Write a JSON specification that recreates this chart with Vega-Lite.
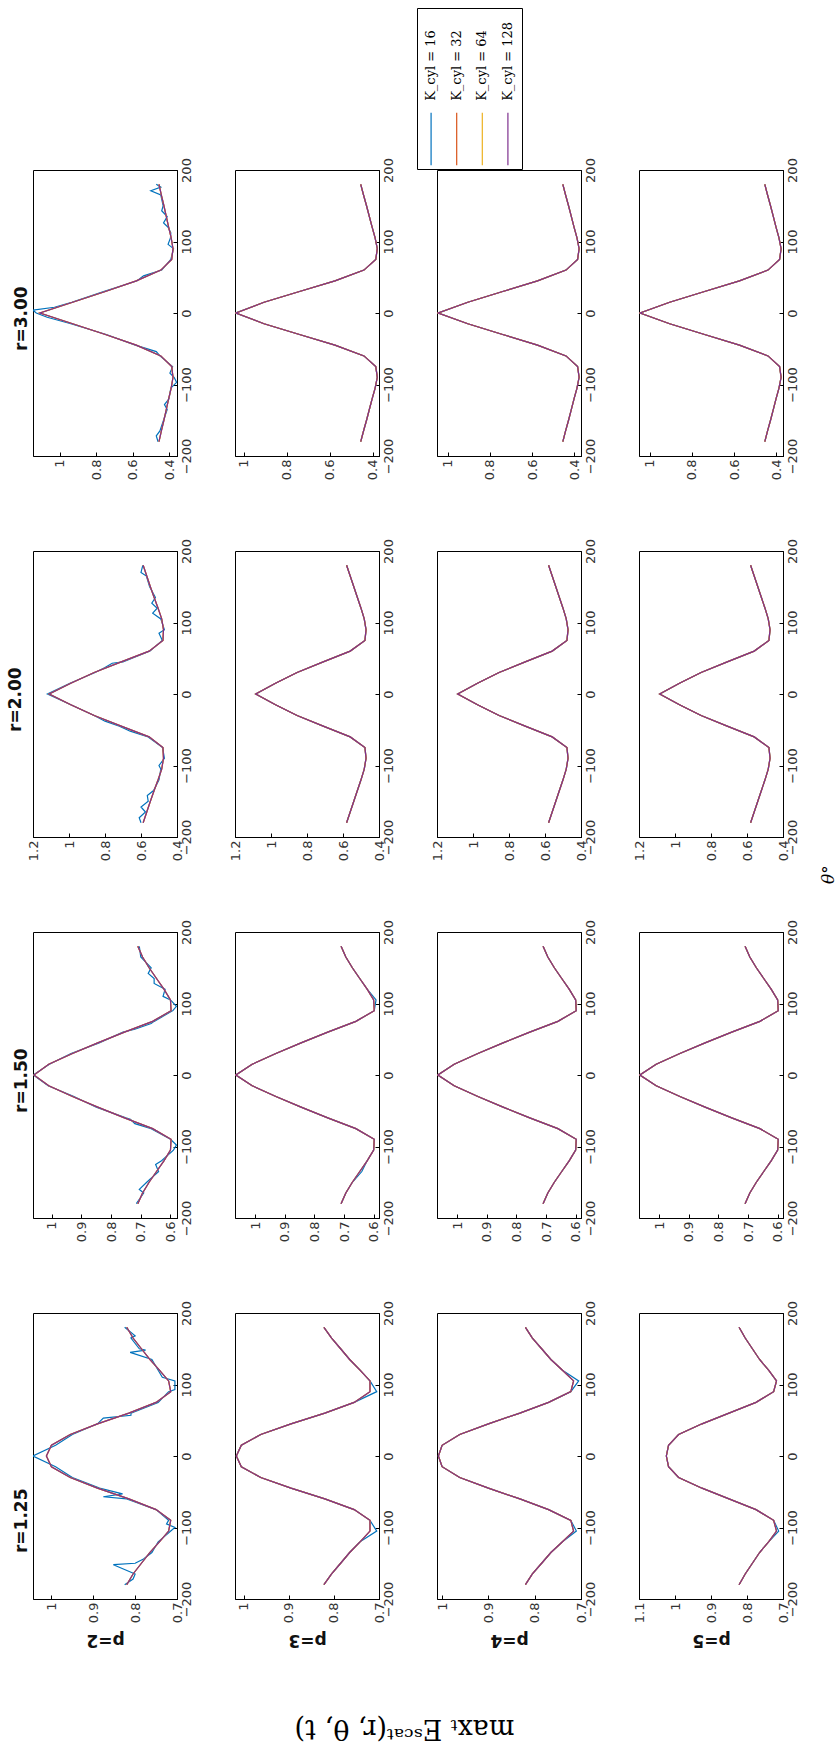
{
"$schema":"https://vega.github.io/schema/vega-lite/v6.json",
"background":"white",
"padding":{"left":6,"top":7,"right":2,"bottom":2},
"data":{"values":[
{"r":3,"p":2,"t":-180,"16":0.46,"32":0.455,"64":0.455,"128":0.455},
{"r":3,"p":2,"t":-165,"16":0.45,"32":0.442,"64":0.442,"128":0.442},
{"r":3,"p":2,"t":-150,"16":0.43,"32":0.428,"64":0.428,"128":0.428},
{"r":3,"p":2,"t":-135,"16":0.41,"32":0.415,"64":0.415,"128":0.415},
{"r":3,"p":2,"t":-120,"16":0.4,"32":0.402,"64":0.402,"128":0.402},
{"r":3,"p":2,"t":-105,"16":0.39,"32":0.388,"64":0.388,"128":0.388},
{"r":3,"p":2,"t":-90,"16":0.372,"32":0.378,"64":0.378,"128":0.378},
{"r":3,"p":2,"t":-75,"16":0.38,"32":0.385,"64":0.385,"128":0.385},
{"r":3,"p":2,"t":-60,"16":0.45,"32":0.445,"64":0.445,"128":0.445},
{"r":3,"p":2,"t":-45,"16":0.585,"32":0.58,"64":0.58,"128":0.58},
{"r":3,"p":2,"t":-30,"16":0.745,"32":0.75,"64":0.75,"128":0.75},
{"r":3,"p":2,"t":-15,"16":0.94,"32":0.93,"64":0.93,"128":0.93},
{"r":3,"p":2,"t":0,"16":1.13,"32":1.11,"64":1.11,"128":1.11},
{"r":3,"p":2,"t":15,"16":0.935,"32":0.93,"64":0.93,"128":0.93},
{"r":3,"p":2,"t":30,"16":0.76,"32":0.75,"64":0.75,"128":0.75},
{"r":3,"p":2,"t":45,"16":0.575,"32":0.58,"64":0.58,"128":0.58},
{"r":3,"p":2,"t":60,"16":0.44,"32":0.445,"64":0.445,"128":0.445},
{"r":3,"p":2,"t":75,"16":0.39,"32":0.385,"64":0.385,"128":0.385},
{"r":3,"p":2,"t":90,"16":0.375,"32":0.378,"64":0.378,"128":0.378},
{"r":3,"p":2,"t":105,"16":0.392,"32":0.388,"64":0.388,"128":0.388},
{"r":3,"p":2,"t":120,"16":0.405,"32":0.402,"64":0.402,"128":0.402},
{"r":3,"p":2,"t":135,"16":0.41,"32":0.415,"64":0.415,"128":0.415},
{"r":3,"p":2,"t":150,"16":0.432,"32":0.428,"64":0.428,"128":0.428},
{"r":3,"p":2,"t":165,"16":0.445,"32":0.442,"64":0.442,"128":0.442},
{"r":3,"p":2,"t":180,"16":0.47,"32":0.455,"64":0.455,"128":0.455},
{"r":3,"p":2,"t":-172,"16":0.47},{"r":3,"p":2,"t":-128,"16":0.425},{"r":3,"p":2,"t":-97,"16":0.358},{"r":3,"p":2,"t":-84,"16":0.395},{"r":3,"p":2,"t":-54,"16":0.47},{"r":3,"p":2,"t":-6,"16":1.07},{"r":3,"p":2,"t":4,"16":1.148},{"r":3,"p":2,"t":8,"16":1.03},{"r":3,"p":2,"t":52,"16":0.54},{"r":3,"p":2,"t":96,"16":0.405},{"r":3,"p":2,"t":112,"16":0.39},{"r":3,"p":2,"t":126,"16":0.43},{"r":3,"p":2,"t":143,"16":0.44},{"r":3,"p":2,"t":171,"16":0.5},{"r":3,"p":2,"t":176,"16":0.445},
{"r":3,"p":3,"t":-180,"16":0.455,"32":0.455,"64":0.455,"128":0.455},
{"r":3,"p":3,"t":-165,"16":0.442,"32":0.442,"64":0.442,"128":0.442},
{"r":3,"p":3,"t":-150,"16":0.428,"32":0.428,"64":0.428,"128":0.428},
{"r":3,"p":3,"t":-135,"16":0.415,"32":0.415,"64":0.415,"128":0.415},
{"r":3,"p":3,"t":-120,"16":0.402,"32":0.402,"64":0.402,"128":0.402},
{"r":3,"p":3,"t":-105,"16":0.388,"32":0.388,"64":0.388,"128":0.388},
{"r":3,"p":3,"t":-90,"16":0.378,"32":0.378,"64":0.378,"128":0.378},
{"r":3,"p":3,"t":-75,"16":0.385,"32":0.385,"64":0.385,"128":0.385},
{"r":3,"p":3,"t":-60,"16":0.44,"32":0.44,"64":0.44,"128":0.44},
{"r":3,"p":3,"t":-45,"16":0.575,"32":0.575,"64":0.575,"128":0.575},
{"r":3,"p":3,"t":-30,"16":0.74,"32":0.74,"64":0.74,"128":0.74},
{"r":3,"p":3,"t":-15,"16":0.905,"32":0.905,"64":0.905,"128":0.905},
{"r":3,"p":3,"t":0,"16":1.038,"32":1.035,"64":1.035,"128":1.035},
{"r":3,"p":3,"t":15,"16":0.905,"32":0.905,"64":0.905,"128":0.905},
{"r":3,"p":3,"t":30,"16":0.74,"32":0.74,"64":0.74,"128":0.74},
{"r":3,"p":3,"t":45,"16":0.575,"32":0.575,"64":0.575,"128":0.575},
{"r":3,"p":3,"t":60,"16":0.44,"32":0.44,"64":0.44,"128":0.44},
{"r":3,"p":3,"t":75,"16":0.385,"32":0.385,"64":0.385,"128":0.385},
{"r":3,"p":3,"t":90,"16":0.378,"32":0.378,"64":0.378,"128":0.378},
{"r":3,"p":3,"t":105,"16":0.388,"32":0.388,"64":0.388,"128":0.388},
{"r":3,"p":3,"t":120,"16":0.402,"32":0.402,"64":0.402,"128":0.402},
{"r":3,"p":3,"t":135,"16":0.415,"32":0.415,"64":0.415,"128":0.415},
{"r":3,"p":3,"t":150,"16":0.428,"32":0.428,"64":0.428,"128":0.428},
{"r":3,"p":3,"t":165,"16":0.442,"32":0.442,"64":0.442,"128":0.442},
{"r":3,"p":3,"t":180,"16":0.455,"32":0.455,"64":0.455,"128":0.455},
{"r":3,"p":4,"t":-180,"16":0.455,"32":0.455,"64":0.455,"128":0.455},
{"r":3,"p":4,"t":-165,"16":0.442,"32":0.442,"64":0.442,"128":0.442},
{"r":3,"p":4,"t":-150,"16":0.428,"32":0.428,"64":0.428,"128":0.428},
{"r":3,"p":4,"t":-135,"16":0.415,"32":0.415,"64":0.415,"128":0.415},
{"r":3,"p":4,"t":-120,"16":0.402,"32":0.402,"64":0.402,"128":0.402},
{"r":3,"p":4,"t":-105,"16":0.388,"32":0.388,"64":0.388,"128":0.388},
{"r":3,"p":4,"t":-90,"16":0.378,"32":0.378,"64":0.378,"128":0.378},
{"r":3,"p":4,"t":-75,"16":0.385,"32":0.385,"64":0.385,"128":0.385},
{"r":3,"p":4,"t":-60,"16":0.44,"32":0.44,"64":0.44,"128":0.44},
{"r":3,"p":4,"t":-45,"16":0.575,"32":0.575,"64":0.575,"128":0.575},
{"r":3,"p":4,"t":-30,"16":0.74,"32":0.74,"64":0.74,"128":0.74},
{"r":3,"p":4,"t":-15,"16":0.905,"32":0.905,"64":0.905,"128":0.905},
{"r":3,"p":4,"t":0,"16":1.045,"32":1.045,"64":1.045,"128":1.045},
{"r":3,"p":4,"t":15,"16":0.905,"32":0.905,"64":0.905,"128":0.905},
{"r":3,"p":4,"t":30,"16":0.74,"32":0.74,"64":0.74,"128":0.74},
{"r":3,"p":4,"t":45,"16":0.575,"32":0.575,"64":0.575,"128":0.575},
{"r":3,"p":4,"t":60,"16":0.44,"32":0.44,"64":0.44,"128":0.44},
{"r":3,"p":4,"t":75,"16":0.385,"32":0.385,"64":0.385,"128":0.385},
{"r":3,"p":4,"t":90,"16":0.378,"32":0.378,"64":0.378,"128":0.378},
{"r":3,"p":4,"t":105,"16":0.388,"32":0.388,"64":0.388,"128":0.388},
{"r":3,"p":4,"t":120,"16":0.402,"32":0.402,"64":0.402,"128":0.402},
{"r":3,"p":4,"t":135,"16":0.415,"32":0.415,"64":0.415,"128":0.415},
{"r":3,"p":4,"t":150,"16":0.428,"32":0.428,"64":0.428,"128":0.428},
{"r":3,"p":4,"t":165,"16":0.442,"32":0.442,"64":0.442,"128":0.442},
{"r":3,"p":4,"t":180,"16":0.455,"32":0.455,"64":0.455,"128":0.455},
{"r":3,"p":5,"t":-180,"16":0.455,"32":0.455,"64":0.455,"128":0.455},
{"r":3,"p":5,"t":-165,"16":0.442,"32":0.442,"64":0.442,"128":0.442},
{"r":3,"p":5,"t":-150,"16":0.428,"32":0.428,"64":0.428,"128":0.428},
{"r":3,"p":5,"t":-135,"16":0.415,"32":0.415,"64":0.415,"128":0.415},
{"r":3,"p":5,"t":-120,"16":0.402,"32":0.402,"64":0.402,"128":0.402},
{"r":3,"p":5,"t":-105,"16":0.388,"32":0.388,"64":0.388,"128":0.388},
{"r":3,"p":5,"t":-90,"16":0.378,"32":0.378,"64":0.378,"128":0.378},
{"r":3,"p":5,"t":-75,"16":0.385,"32":0.385,"64":0.385,"128":0.385},
{"r":3,"p":5,"t":-60,"16":0.44,"32":0.44,"64":0.44,"128":0.44},
{"r":3,"p":5,"t":-45,"16":0.575,"32":0.575,"64":0.575,"128":0.575},
{"r":3,"p":5,"t":-30,"16":0.74,"32":0.74,"64":0.74,"128":0.74},
{"r":3,"p":5,"t":-15,"16":0.905,"32":0.905,"64":0.905,"128":0.905},
{"r":3,"p":5,"t":0,"16":1.045,"32":1.045,"64":1.045,"128":1.045},
{"r":3,"p":5,"t":15,"16":0.905,"32":0.905,"64":0.905,"128":0.905},
{"r":3,"p":5,"t":30,"16":0.74,"32":0.74,"64":0.74,"128":0.74},
{"r":3,"p":5,"t":45,"16":0.575,"32":0.575,"64":0.575,"128":0.575},
{"r":3,"p":5,"t":60,"16":0.44,"32":0.44,"64":0.44,"128":0.44},
{"r":3,"p":5,"t":75,"16":0.385,"32":0.385,"64":0.385,"128":0.385},
{"r":3,"p":5,"t":90,"16":0.378,"32":0.378,"64":0.378,"128":0.378},
{"r":3,"p":5,"t":105,"16":0.388,"32":0.388,"64":0.388,"128":0.388},
{"r":3,"p":5,"t":120,"16":0.402,"32":0.402,"64":0.402,"128":0.402},
{"r":3,"p":5,"t":135,"16":0.415,"32":0.415,"64":0.415,"128":0.415},
{"r":3,"p":5,"t":150,"16":0.428,"32":0.428,"64":0.428,"128":0.428},
{"r":3,"p":5,"t":165,"16":0.442,"32":0.442,"64":0.442,"128":0.442},
{"r":3,"p":5,"t":180,"16":0.455,"32":0.455,"64":0.455,"128":0.455},
{"r":2,"p":2,"t":-180,"16":0.6,"32":0.588,"64":0.588,"128":0.588},
{"r":2,"p":2,"t":-165,"16":0.575,"32":0.568,"64":0.568,"128":0.568},
{"r":2,"p":2,"t":-150,"16":0.56,"32":0.548,"64":0.548,"128":0.548},
{"r":2,"p":2,"t":-135,"16":0.53,"32":0.527,"64":0.527,"128":0.527},
{"r":2,"p":2,"t":-120,"16":0.5,"32":0.505,"64":0.505,"128":0.505},
{"r":2,"p":2,"t":-105,"16":0.49,"32":0.485,"64":0.485,"128":0.485},
{"r":2,"p":2,"t":-90,"16":0.47,"32":0.475,"64":0.475,"128":0.475},
{"r":2,"p":2,"t":-75,"16":0.48,"32":0.478,"64":0.478,"128":0.478},
{"r":2,"p":2,"t":-60,"16":0.56,"32":0.555,"64":0.555,"128":0.555},
{"r":2,"p":2,"t":-45,"16":0.72,"32":0.71,"64":0.71,"128":0.71},
{"r":2,"p":2,"t":-30,"16":0.86,"32":0.86,"64":0.86,"128":0.86},
{"r":2,"p":2,"t":-15,"16":0.99,"32":0.99,"64":0.99,"128":0.99},
{"r":2,"p":2,"t":0,"16":1.12,"32":1.11,"64":1.11,"128":1.11},
{"r":2,"p":2,"t":15,"16":0.995,"32":0.99,"64":0.99,"128":0.99},
{"r":2,"p":2,"t":30,"16":0.855,"32":0.86,"64":0.86,"128":0.86},
{"r":2,"p":2,"t":45,"16":0.7,"32":0.71,"64":0.71,"128":0.71},
{"r":2,"p":2,"t":60,"16":0.55,"32":0.555,"64":0.555,"128":0.555},
{"r":2,"p":2,"t":75,"16":0.482,"32":0.478,"64":0.478,"128":0.478},
{"r":2,"p":2,"t":90,"16":0.47,"32":0.475,"64":0.475,"128":0.475},
{"r":2,"p":2,"t":105,"16":0.49,"32":0.485,"64":0.485,"128":0.485},
{"r":2,"p":2,"t":120,"16":0.51,"32":0.505,"64":0.505,"128":0.505},
{"r":2,"p":2,"t":135,"16":0.52,"32":0.527,"64":0.527,"128":0.527},
{"r":2,"p":2,"t":150,"16":0.552,"32":0.548,"64":0.548,"128":0.548},
{"r":2,"p":2,"t":165,"16":0.57,"32":0.568,"64":0.568,"128":0.568},
{"r":2,"p":2,"t":180,"16":0.59,"32":0.588,"64":0.588,"128":0.588},
{"r":2,"p":2,"t":-173,"16":0.61},{"r":2,"p":2,"t":-158,"16":0.6},{"r":2,"p":2,"t":-142,"16":0.565},{"r":2,"p":2,"t":-100,"16":0.5},{"r":2,"p":2,"t":-52,"16":0.66},{"r":2,"p":2,"t":-38,"16":0.8},{"r":2,"p":2,"t":37,"16":0.8},{"r":2,"p":2,"t":43,"16":0.76},{"r":2,"p":2,"t":85,"16":0.5},{"r":2,"p":2,"t":113,"16":0.535},{"r":2,"p":2,"t":127,"16":0.54},{"r":2,"p":2,"t":170,"16":0.6},
{"r":2,"p":3,"t":-180,"16":0.58,"32":0.58,"64":0.58,"128":0.58},
{"r":2,"p":3,"t":-165,"16":0.56,"32":0.56,"64":0.56,"128":0.56},
{"r":2,"p":3,"t":-150,"16":0.54,"32":0.54,"64":0.54,"128":0.54},
{"r":2,"p":3,"t":-135,"16":0.52,"32":0.52,"64":0.52,"128":0.52},
{"r":2,"p":3,"t":-120,"16":0.5,"32":0.5,"64":0.5,"128":0.5},
{"r":2,"p":3,"t":-105,"16":0.482,"32":0.482,"64":0.482,"128":0.482},
{"r":2,"p":3,"t":-90,"16":0.472,"32":0.472,"64":0.472,"128":0.472},
{"r":2,"p":3,"t":-75,"16":0.478,"32":0.478,"64":0.478,"128":0.478},
{"r":2,"p":3,"t":-60,"16":0.56,"32":0.56,"64":0.56,"128":0.56},
{"r":2,"p":3,"t":-45,"16":0.71,"32":0.71,"64":0.71,"128":0.71},
{"r":2,"p":3,"t":-30,"16":0.855,"32":0.855,"64":0.855,"128":0.855},
{"r":2,"p":3,"t":-15,"16":0.975,"32":0.975,"64":0.975,"128":0.975},
{"r":2,"p":3,"t":0,"16":1.085,"32":1.085,"64":1.085,"128":1.085},
{"r":2,"p":3,"t":15,"16":0.975,"32":0.975,"64":0.975,"128":0.975},
{"r":2,"p":3,"t":30,"16":0.855,"32":0.855,"64":0.855,"128":0.855},
{"r":2,"p":3,"t":45,"16":0.71,"32":0.71,"64":0.71,"128":0.71},
{"r":2,"p":3,"t":60,"16":0.56,"32":0.56,"64":0.56,"128":0.56},
{"r":2,"p":3,"t":75,"16":0.478,"32":0.478,"64":0.478,"128":0.478},
{"r":2,"p":3,"t":90,"16":0.472,"32":0.472,"64":0.472,"128":0.472},
{"r":2,"p":3,"t":105,"16":0.482,"32":0.482,"64":0.482,"128":0.482},
{"r":2,"p":3,"t":120,"16":0.5,"32":0.5,"64":0.5,"128":0.5},
{"r":2,"p":3,"t":135,"16":0.52,"32":0.52,"64":0.52,"128":0.52},
{"r":2,"p":3,"t":150,"16":0.54,"32":0.54,"64":0.54,"128":0.54},
{"r":2,"p":3,"t":165,"16":0.56,"32":0.56,"64":0.56,"128":0.56},
{"r":2,"p":3,"t":180,"16":0.58,"32":0.58,"64":0.58,"128":0.58},
{"r":2,"p":4,"t":-180,"16":0.58,"32":0.58,"64":0.58,"128":0.58},
{"r":2,"p":4,"t":-165,"16":0.56,"32":0.56,"64":0.56,"128":0.56},
{"r":2,"p":4,"t":-150,"16":0.54,"32":0.54,"64":0.54,"128":0.54},
{"r":2,"p":4,"t":-135,"16":0.52,"32":0.52,"64":0.52,"128":0.52},
{"r":2,"p":4,"t":-120,"16":0.5,"32":0.5,"64":0.5,"128":0.5},
{"r":2,"p":4,"t":-105,"16":0.482,"32":0.482,"64":0.482,"128":0.482},
{"r":2,"p":4,"t":-90,"16":0.472,"32":0.472,"64":0.472,"128":0.472},
{"r":2,"p":4,"t":-75,"16":0.478,"32":0.478,"64":0.478,"128":0.478},
{"r":2,"p":4,"t":-60,"16":0.56,"32":0.56,"64":0.56,"128":0.56},
{"r":2,"p":4,"t":-45,"16":0.71,"32":0.71,"64":0.71,"128":0.71},
{"r":2,"p":4,"t":-30,"16":0.855,"32":0.855,"64":0.855,"128":0.855},
{"r":2,"p":4,"t":-15,"16":0.975,"32":0.975,"64":0.975,"128":0.975},
{"r":2,"p":4,"t":0,"16":1.085,"32":1.085,"64":1.085,"128":1.085},
{"r":2,"p":4,"t":15,"16":0.975,"32":0.975,"64":0.975,"128":0.975},
{"r":2,"p":4,"t":30,"16":0.855,"32":0.855,"64":0.855,"128":0.855},
{"r":2,"p":4,"t":45,"16":0.71,"32":0.71,"64":0.71,"128":0.71},
{"r":2,"p":4,"t":60,"16":0.56,"32":0.56,"64":0.56,"128":0.56},
{"r":2,"p":4,"t":75,"16":0.478,"32":0.478,"64":0.478,"128":0.478},
{"r":2,"p":4,"t":90,"16":0.472,"32":0.472,"64":0.472,"128":0.472},
{"r":2,"p":4,"t":105,"16":0.482,"32":0.482,"64":0.482,"128":0.482},
{"r":2,"p":4,"t":120,"16":0.5,"32":0.5,"64":0.5,"128":0.5},
{"r":2,"p":4,"t":135,"16":0.52,"32":0.52,"64":0.52,"128":0.52},
{"r":2,"p":4,"t":150,"16":0.54,"32":0.54,"64":0.54,"128":0.54},
{"r":2,"p":4,"t":165,"16":0.56,"32":0.56,"64":0.56,"128":0.56},
{"r":2,"p":4,"t":180,"16":0.58,"32":0.58,"64":0.58,"128":0.58},
{"r":2,"p":5,"t":-180,"16":0.58,"32":0.58,"64":0.58,"128":0.58},
{"r":2,"p":5,"t":-165,"16":0.56,"32":0.56,"64":0.56,"128":0.56},
{"r":2,"p":5,"t":-150,"16":0.54,"32":0.54,"64":0.54,"128":0.54},
{"r":2,"p":5,"t":-135,"16":0.52,"32":0.52,"64":0.52,"128":0.52},
{"r":2,"p":5,"t":-120,"16":0.5,"32":0.5,"64":0.5,"128":0.5},
{"r":2,"p":5,"t":-105,"16":0.482,"32":0.482,"64":0.482,"128":0.482},
{"r":2,"p":5,"t":-90,"16":0.472,"32":0.472,"64":0.472,"128":0.472},
{"r":2,"p":5,"t":-75,"16":0.478,"32":0.478,"64":0.478,"128":0.478},
{"r":2,"p":5,"t":-60,"16":0.56,"32":0.56,"64":0.56,"128":0.56},
{"r":2,"p":5,"t":-45,"16":0.71,"32":0.71,"64":0.71,"128":0.71},
{"r":2,"p":5,"t":-30,"16":0.855,"32":0.855,"64":0.855,"128":0.855},
{"r":2,"p":5,"t":-15,"16":0.975,"32":0.975,"64":0.975,"128":0.975},
{"r":2,"p":5,"t":0,"16":1.085,"32":1.085,"64":1.085,"128":1.085},
{"r":2,"p":5,"t":15,"16":0.975,"32":0.975,"64":0.975,"128":0.975},
{"r":2,"p":5,"t":30,"16":0.855,"32":0.855,"64":0.855,"128":0.855},
{"r":2,"p":5,"t":45,"16":0.71,"32":0.71,"64":0.71,"128":0.71},
{"r":2,"p":5,"t":60,"16":0.56,"32":0.56,"64":0.56,"128":0.56},
{"r":2,"p":5,"t":75,"16":0.478,"32":0.478,"64":0.478,"128":0.478},
{"r":2,"p":5,"t":90,"16":0.472,"32":0.472,"64":0.472,"128":0.472},
{"r":2,"p":5,"t":105,"16":0.482,"32":0.482,"64":0.482,"128":0.482},
{"r":2,"p":5,"t":120,"16":0.5,"32":0.5,"64":0.5,"128":0.5},
{"r":2,"p":5,"t":135,"16":0.52,"32":0.52,"64":0.52,"128":0.52},
{"r":2,"p":5,"t":150,"16":0.54,"32":0.54,"64":0.54,"128":0.54},
{"r":2,"p":5,"t":165,"16":0.56,"32":0.56,"64":0.56,"128":0.56},
{"r":2,"p":5,"t":180,"16":0.58,"32":0.58,"64":0.58,"128":0.58},
{"r":1.5,"p":2,"t":-180,"16":0.715,"32":0.71,"64":0.71,"128":0.71},
{"r":1.5,"p":2,"t":-165,"16":0.69,"32":0.694,"64":0.694,"128":0.694},
{"r":1.5,"p":2,"t":-150,"16":0.68,"32":0.672,"64":0.672,"128":0.672},
{"r":1.5,"p":2,"t":-135,"16":0.64,"32":0.647,"64":0.647,"128":0.647},
{"r":1.5,"p":2,"t":-120,"16":0.63,"32":0.622,"64":0.622,"128":0.622},
{"r":1.5,"p":2,"t":-105,"16":0.59,"32":0.6,"64":0.6,"128":0.6},
{"r":1.5,"p":2,"t":-90,"16":0.6,"32":0.598,"64":0.598,"128":0.598},
{"r":1.5,"p":2,"t":-75,"16":0.665,"32":0.66,"64":0.66,"128":0.66},
{"r":1.5,"p":2,"t":-60,"16":0.75,"32":0.755,"64":0.755,"128":0.755},
{"r":1.5,"p":2,"t":-45,"16":0.85,"32":0.845,"64":0.845,"128":0.845},
{"r":1.5,"p":2,"t":-30,"16":0.925,"32":0.93,"64":0.93,"128":0.93},
{"r":1.5,"p":2,"t":-15,"16":1.012,"32":1.01,"64":1.01,"128":1.01},
{"r":1.5,"p":2,"t":0,"16":1.062,"32":1.06,"64":1.06,"128":1.06},
{"r":1.5,"p":2,"t":15,"16":1.008,"32":1.01,"64":1.01,"128":1.01},
{"r":1.5,"p":2,"t":30,"16":0.935,"32":0.93,"64":0.93,"128":0.93},
{"r":1.5,"p":2,"t":45,"16":0.84,"32":0.845,"64":0.845,"128":0.845},
{"r":1.5,"p":2,"t":60,"16":0.76,"32":0.755,"64":0.755,"128":0.755},
{"r":1.5,"p":2,"t":75,"16":0.655,"32":0.66,"64":0.66,"128":0.66},
{"r":1.5,"p":2,"t":90,"16":0.592,"32":0.598,"64":0.598,"128":0.598},
{"r":1.5,"p":2,"t":105,"16":0.6,"32":0.6,"64":0.6,"128":0.6},
{"r":1.5,"p":2,"t":120,"16":0.618,"32":0.622,"64":0.622,"128":0.622},
{"r":1.5,"p":2,"t":135,"16":0.655,"32":0.647,"64":0.647,"128":0.647},
{"r":1.5,"p":2,"t":150,"16":0.665,"32":0.672,"64":0.672,"128":0.672},
{"r":1.5,"p":2,"t":165,"16":0.7,"32":0.694,"64":0.694,"128":0.694},
{"r":1.5,"p":2,"t":180,"16":0.705,"32":0.71,"64":0.71,"128":0.71},
{"r":1.5,"p":2,"t":-160,"16":0.705},{"r":1.5,"p":2,"t":-125,"16":0.65},{"r":1.5,"p":2,"t":-98,"16":0.58},{"r":1.5,"p":2,"t":-68,"16":0.72},{"r":1.5,"p":2,"t":-62,"16":0.735},{"r":1.5,"p":2,"t":64,"16":0.72},{"r":1.5,"p":2,"t":72,"16":0.665},{"r":1.5,"p":2,"t":96,"16":0.58},{"r":1.5,"p":2,"t":110,"16":0.625},{"r":1.5,"p":2,"t":128,"16":0.655},{"r":1.5,"p":2,"t":142,"16":0.675},
{"r":1.5,"p":3,"t":-180,"16":0.71,"32":0.71,"64":0.71,"128":0.71},
{"r":1.5,"p":3,"t":-165,"16":0.694,"32":0.694,"64":0.694,"128":0.694},
{"r":1.5,"p":3,"t":-150,"16":0.672,"32":0.672,"64":0.672,"128":0.672},
{"r":1.5,"p":3,"t":-135,"16":0.64,"32":0.647,"64":0.647,"128":0.647},
{"r":1.5,"p":3,"t":-120,"16":0.622,"32":0.622,"64":0.622,"128":0.622},
{"r":1.5,"p":3,"t":-105,"16":0.6,"32":0.6,"64":0.6,"128":0.6},
{"r":1.5,"p":3,"t":-90,"16":0.598,"32":0.598,"64":0.598,"128":0.598},
{"r":1.5,"p":3,"t":-75,"16":0.66,"32":0.66,"64":0.66,"128":0.66},
{"r":1.5,"p":3,"t":-60,"16":0.755,"32":0.755,"64":0.755,"128":0.755},
{"r":1.5,"p":3,"t":-45,"16":0.845,"32":0.845,"64":0.845,"128":0.845},
{"r":1.5,"p":3,"t":-30,"16":0.93,"32":0.93,"64":0.93,"128":0.93},
{"r":1.5,"p":3,"t":-15,"16":1.01,"32":1.01,"64":1.01,"128":1.01},
{"r":1.5,"p":3,"t":0,"16":1.065,"32":1.065,"64":1.065,"128":1.065},
{"r":1.5,"p":3,"t":15,"16":1.01,"32":1.01,"64":1.01,"128":1.01},
{"r":1.5,"p":3,"t":30,"16":0.93,"32":0.93,"64":0.93,"128":0.93},
{"r":1.5,"p":3,"t":45,"16":0.845,"32":0.845,"64":0.845,"128":0.845},
{"r":1.5,"p":3,"t":60,"16":0.755,"32":0.755,"64":0.755,"128":0.755},
{"r":1.5,"p":3,"t":75,"16":0.66,"32":0.66,"64":0.66,"128":0.66},
{"r":1.5,"p":3,"t":90,"16":0.598,"32":0.598,"64":0.598,"128":0.598},
{"r":1.5,"p":3,"t":105,"16":0.592,"32":0.6,"64":0.6,"128":0.6},
{"r":1.5,"p":3,"t":120,"16":0.622,"32":0.622,"64":0.622,"128":0.622},
{"r":1.5,"p":3,"t":135,"16":0.647,"32":0.647,"64":0.647,"128":0.647},
{"r":1.5,"p":3,"t":150,"16":0.672,"32":0.672,"64":0.672,"128":0.672},
{"r":1.5,"p":3,"t":165,"16":0.694,"32":0.694,"64":0.694,"128":0.694},
{"r":1.5,"p":3,"t":180,"16":0.71,"32":0.71,"64":0.71,"128":0.71},
{"r":1.5,"p":4,"t":-180,"16":0.71,"32":0.71,"64":0.71,"128":0.71},
{"r":1.5,"p":4,"t":-165,"16":0.694,"32":0.694,"64":0.694,"128":0.694},
{"r":1.5,"p":4,"t":-150,"16":0.672,"32":0.672,"64":0.672,"128":0.672},
{"r":1.5,"p":4,"t":-135,"16":0.647,"32":0.647,"64":0.647,"128":0.647},
{"r":1.5,"p":4,"t":-120,"16":0.622,"32":0.622,"64":0.622,"128":0.622},
{"r":1.5,"p":4,"t":-105,"16":0.6,"32":0.6,"64":0.6,"128":0.6},
{"r":1.5,"p":4,"t":-90,"16":0.598,"32":0.598,"64":0.598,"128":0.598},
{"r":1.5,"p":4,"t":-75,"16":0.66,"32":0.66,"64":0.66,"128":0.66},
{"r":1.5,"p":4,"t":-60,"16":0.755,"32":0.755,"64":0.755,"128":0.755},
{"r":1.5,"p":4,"t":-45,"16":0.845,"32":0.845,"64":0.845,"128":0.845},
{"r":1.5,"p":4,"t":-30,"16":0.93,"32":0.93,"64":0.93,"128":0.93},
{"r":1.5,"p":4,"t":-15,"16":1.01,"32":1.01,"64":1.01,"128":1.01},
{"r":1.5,"p":4,"t":0,"16":1.065,"32":1.065,"64":1.065,"128":1.065},
{"r":1.5,"p":4,"t":15,"16":1.01,"32":1.01,"64":1.01,"128":1.01},
{"r":1.5,"p":4,"t":30,"16":0.93,"32":0.93,"64":0.93,"128":0.93},
{"r":1.5,"p":4,"t":45,"16":0.845,"32":0.845,"64":0.845,"128":0.845},
{"r":1.5,"p":4,"t":60,"16":0.755,"32":0.755,"64":0.755,"128":0.755},
{"r":1.5,"p":4,"t":75,"16":0.66,"32":0.66,"64":0.66,"128":0.66},
{"r":1.5,"p":4,"t":90,"16":0.598,"32":0.598,"64":0.598,"128":0.598},
{"r":1.5,"p":4,"t":105,"16":0.6,"32":0.6,"64":0.6,"128":0.6},
{"r":1.5,"p":4,"t":120,"16":0.622,"32":0.622,"64":0.622,"128":0.622},
{"r":1.5,"p":4,"t":135,"16":0.647,"32":0.647,"64":0.647,"128":0.647},
{"r":1.5,"p":4,"t":150,"16":0.672,"32":0.672,"64":0.672,"128":0.672},
{"r":1.5,"p":4,"t":165,"16":0.694,"32":0.694,"64":0.694,"128":0.694},
{"r":1.5,"p":4,"t":180,"16":0.71,"32":0.71,"64":0.71,"128":0.71},
{"r":1.5,"p":5,"t":-180,"16":0.71,"32":0.71,"64":0.71,"128":0.71},
{"r":1.5,"p":5,"t":-165,"16":0.694,"32":0.694,"64":0.694,"128":0.694},
{"r":1.5,"p":5,"t":-150,"16":0.672,"32":0.672,"64":0.672,"128":0.672},
{"r":1.5,"p":5,"t":-135,"16":0.647,"32":0.647,"64":0.647,"128":0.647},
{"r":1.5,"p":5,"t":-120,"16":0.622,"32":0.622,"64":0.622,"128":0.622},
{"r":1.5,"p":5,"t":-105,"16":0.6,"32":0.6,"64":0.6,"128":0.6},
{"r":1.5,"p":5,"t":-90,"16":0.598,"32":0.598,"64":0.598,"128":0.598},
{"r":1.5,"p":5,"t":-75,"16":0.66,"32":0.66,"64":0.66,"128":0.66},
{"r":1.5,"p":5,"t":-60,"16":0.755,"32":0.755,"64":0.755,"128":0.755},
{"r":1.5,"p":5,"t":-45,"16":0.845,"32":0.845,"64":0.845,"128":0.845},
{"r":1.5,"p":5,"t":-30,"16":0.93,"32":0.93,"64":0.93,"128":0.93},
{"r":1.5,"p":5,"t":-15,"16":1.01,"32":1.01,"64":1.01,"128":1.01},
{"r":1.5,"p":5,"t":0,"16":1.065,"32":1.065,"64":1.065,"128":1.065},
{"r":1.5,"p":5,"t":15,"16":1.01,"32":1.01,"64":1.01,"128":1.01},
{"r":1.5,"p":5,"t":30,"16":0.93,"32":0.93,"64":0.93,"128":0.93},
{"r":1.5,"p":5,"t":45,"16":0.845,"32":0.845,"64":0.845,"128":0.845},
{"r":1.5,"p":5,"t":60,"16":0.755,"32":0.755,"64":0.755,"128":0.755},
{"r":1.5,"p":5,"t":75,"16":0.66,"32":0.66,"64":0.66,"128":0.66},
{"r":1.5,"p":5,"t":90,"16":0.598,"32":0.598,"64":0.598,"128":0.598},
{"r":1.5,"p":5,"t":105,"16":0.6,"32":0.6,"64":0.6,"128":0.6},
{"r":1.5,"p":5,"t":120,"16":0.622,"32":0.622,"64":0.622,"128":0.622},
{"r":1.5,"p":5,"t":135,"16":0.647,"32":0.647,"64":0.647,"128":0.647},
{"r":1.5,"p":5,"t":150,"16":0.672,"32":0.672,"64":0.672,"128":0.672},
{"r":1.5,"p":5,"t":165,"16":0.694,"32":0.694,"64":0.694,"128":0.694},
{"r":1.5,"p":5,"t":180,"16":0.71,"32":0.71,"64":0.71,"128":0.71},
{"r":1.25,"p":2,"t":-180,"16":0.825,"32":0.82,"64":0.82,"128":0.82},
{"r":1.25,"p":2,"t":-165,"16":0.8,"32":0.805,"64":0.805,"128":0.805},
{"r":1.25,"p":2,"t":-150,"16":0.8,"32":0.785,"64":0.785,"128":0.785},
{"r":1.25,"p":2,"t":-135,"16":0.76,"32":0.765,"64":0.765,"128":0.765},
{"r":1.25,"p":2,"t":-120,"16":0.745,"32":0.742,"64":0.742,"128":0.742},
{"r":1.25,"p":2,"t":-105,"16":0.715,"32":0.72,"64":0.72,"128":0.72},
{"r":1.25,"p":2,"t":-90,"16":0.72,"32":0.715,"64":0.715,"128":0.715},
{"r":1.25,"p":2,"t":-75,"16":0.75,"32":0.75,"64":0.75,"128":0.75},
{"r":1.25,"p":2,"t":-60,"16":0.82,"32":0.815,"64":0.815,"128":0.815},
{"r":1.25,"p":2,"t":-45,"16":0.885,"32":0.89,"64":0.89,"128":0.89},
{"r":1.25,"p":2,"t":-30,"16":0.95,"32":0.955,"64":0.955,"128":0.955},
{"r":1.25,"p":2,"t":-15,"16":0.99,"32":1.0,"64":1.0,"128":1.0},
{"r":1.25,"p":2,"t":0,"16":1.044,"32":1.012,"64":1.012,"128":1.012},
{"r":1.25,"p":2,"t":15,"16":0.99,"32":1.0,"64":1.0,"128":1.0},
{"r":1.25,"p":2,"t":30,"16":0.95,"32":0.955,"64":0.955,"128":0.955},
{"r":1.25,"p":2,"t":45,"16":0.89,"32":0.89,"64":0.89,"128":0.89},
{"r":1.25,"p":2,"t":60,"16":0.81,"32":0.815,"64":0.815,"128":0.815},
{"r":1.25,"p":2,"t":75,"16":0.745,"32":0.75,"64":0.75,"128":0.75},
{"r":1.25,"p":2,"t":90,"16":0.72,"32":0.715,"64":0.715,"128":0.715},
{"r":1.25,"p":2,"t":105,"16":0.705,"32":0.72,"64":0.72,"128":0.72},
{"r":1.25,"p":2,"t":120,"16":0.745,"32":0.742,"64":0.742,"128":0.742},
{"r":1.25,"p":2,"t":135,"16":0.76,"32":0.765,"64":0.765,"128":0.765},
{"r":1.25,"p":2,"t":150,"16":0.79,"32":0.785,"64":0.785,"128":0.785},
{"r":1.25,"p":2,"t":165,"16":0.81,"32":0.805,"64":0.805,"128":0.805},
{"r":1.25,"p":2,"t":180,"16":0.825,"32":0.82,"64":0.82,"128":0.82},
{"r":1.25,"p":2,"t":-172,"16":0.805},{"r":1.25,"p":2,"t":-152,"16":0.852},{"r":1.25,"p":2,"t":-144,"16":0.78},{"r":1.25,"p":2,"t":-100,"16":0.705},{"r":1.25,"p":2,"t":-95,"16":0.725},{"r":1.25,"p":2,"t":-57,"16":0.876},{"r":1.25,"p":2,"t":-53,"16":0.83},{"r":1.25,"p":2,"t":53,"16":0.876},{"r":1.25,"p":2,"t":57,"16":0.81},{"r":1.25,"p":2,"t":93,"16":0.705},{"r":1.25,"p":2,"t":110,"16":0.735},{"r":1.25,"p":2,"t":145,"16":0.812},{"r":1.25,"p":2,"t":148,"16":0.775},{"r":1.25,"p":2,"t":168,"16":0.8},
{"r":1.25,"p":3,"t":-180,"16":0.822,"32":0.822,"64":0.822,"128":0.822},
{"r":1.25,"p":3,"t":-165,"16":0.805,"32":0.805,"64":0.805,"128":0.805},
{"r":1.25,"p":3,"t":-150,"16":0.785,"32":0.785,"64":0.785,"128":0.785},
{"r":1.25,"p":3,"t":-135,"16":0.765,"32":0.765,"64":0.765,"128":0.765},
{"r":1.25,"p":3,"t":-120,"16":0.742,"32":0.742,"64":0.742,"128":0.742},
{"r":1.25,"p":3,"t":-105,"16":0.705,"32":0.72,"64":0.72,"128":0.72},
{"r":1.25,"p":3,"t":-90,"16":0.72,"32":0.72,"64":0.72,"128":0.72},
{"r":1.25,"p":3,"t":-75,"16":0.755,"32":0.755,"64":0.755,"128":0.755},
{"r":1.25,"p":3,"t":-60,"16":0.82,"32":0.82,"64":0.82,"128":0.82},
{"r":1.25,"p":3,"t":-45,"16":0.895,"32":0.895,"64":0.895,"128":0.895},
{"r":1.25,"p":3,"t":-30,"16":0.962,"32":0.962,"64":0.962,"128":0.962},
{"r":1.25,"p":3,"t":-15,"16":1.005,"32":1.005,"64":1.005,"128":1.005},
{"r":1.25,"p":3,"t":0,"16":1.016,"32":1.016,"64":1.016,"128":1.016},
{"r":1.25,"p":3,"t":15,"16":1.005,"32":1.005,"64":1.005,"128":1.005},
{"r":1.25,"p":3,"t":30,"16":0.962,"32":0.962,"64":0.962,"128":0.962},
{"r":1.25,"p":3,"t":45,"16":0.895,"32":0.895,"64":0.895,"128":0.895},
{"r":1.25,"p":3,"t":60,"16":0.82,"32":0.82,"64":0.82,"128":0.82},
{"r":1.25,"p":3,"t":75,"16":0.755,"32":0.755,"64":0.755,"128":0.755},
{"r":1.25,"p":3,"t":90,"16":0.705,"32":0.72,"64":0.72,"128":0.72},
{"r":1.25,"p":3,"t":105,"16":0.72,"32":0.72,"64":0.72,"128":0.72},
{"r":1.25,"p":3,"t":120,"16":0.742,"32":0.742,"64":0.742,"128":0.742},
{"r":1.25,"p":3,"t":135,"16":0.765,"32":0.765,"64":0.765,"128":0.765},
{"r":1.25,"p":3,"t":150,"16":0.785,"32":0.785,"64":0.785,"128":0.785},
{"r":1.25,"p":3,"t":165,"16":0.805,"32":0.805,"64":0.805,"128":0.805},
{"r":1.25,"p":3,"t":180,"16":0.822,"32":0.822,"64":0.822,"128":0.822},
{"r":1.25,"p":4,"t":-180,"16":0.82,"32":0.82,"64":0.82,"128":0.82},
{"r":1.25,"p":4,"t":-165,"16":0.805,"32":0.805,"64":0.805,"128":0.805},
{"r":1.25,"p":4,"t":-150,"16":0.785,"32":0.785,"64":0.785,"128":0.785},
{"r":1.25,"p":4,"t":-135,"16":0.765,"32":0.765,"64":0.765,"128":0.765},
{"r":1.25,"p":4,"t":-120,"16":0.74,"32":0.74,"64":0.74,"128":0.74},
{"r":1.25,"p":4,"t":-105,"16":0.71,"32":0.716,"64":0.716,"128":0.716},
{"r":1.25,"p":4,"t":-90,"16":0.722,"32":0.722,"64":0.722,"128":0.722},
{"r":1.25,"p":4,"t":-75,"16":0.77,"32":0.77,"64":0.77,"128":0.77},
{"r":1.25,"p":4,"t":-60,"16":0.832,"32":0.832,"64":0.832,"128":0.832},
{"r":1.25,"p":4,"t":-45,"16":0.9,"32":0.9,"64":0.9,"128":0.9},
{"r":1.25,"p":4,"t":-30,"16":0.962,"32":0.962,"64":0.962,"128":0.962},
{"r":1.25,"p":4,"t":-15,"16":1.0,"32":1.0,"64":1.0,"128":1.0},
{"r":1.25,"p":4,"t":0,"16":1.008,"32":1.008,"64":1.008,"128":1.008},
{"r":1.25,"p":4,"t":15,"16":1.0,"32":1.0,"64":1.0,"128":1.0},
{"r":1.25,"p":4,"t":30,"16":0.962,"32":0.962,"64":0.962,"128":0.962},
{"r":1.25,"p":4,"t":45,"16":0.9,"32":0.9,"64":0.9,"128":0.9},
{"r":1.25,"p":4,"t":60,"16":0.832,"32":0.832,"64":0.832,"128":0.832},
{"r":1.25,"p":4,"t":75,"16":0.77,"32":0.77,"64":0.77,"128":0.77},
{"r":1.25,"p":4,"t":90,"16":0.722,"32":0.722,"64":0.722,"128":0.722},
{"r":1.25,"p":4,"t":105,"16":0.705,"32":0.716,"64":0.716,"128":0.716},
{"r":1.25,"p":4,"t":120,"16":0.74,"32":0.74,"64":0.74,"128":0.74},
{"r":1.25,"p":4,"t":135,"16":0.765,"32":0.765,"64":0.765,"128":0.765},
{"r":1.25,"p":4,"t":150,"16":0.785,"32":0.785,"64":0.785,"128":0.785},
{"r":1.25,"p":4,"t":165,"16":0.805,"32":0.805,"64":0.805,"128":0.805},
{"r":1.25,"p":4,"t":180,"16":0.82,"32":0.82,"64":0.82,"128":0.82},
{"r":1.25,"p":5,"t":-180,"16":0.822,"32":0.822,"64":0.822,"128":0.822},
{"r":1.25,"p":5,"t":-165,"16":0.805,"32":0.805,"64":0.805,"128":0.805},
{"r":1.25,"p":5,"t":-150,"16":0.785,"32":0.785,"64":0.785,"128":0.785},
{"r":1.25,"p":5,"t":-135,"16":0.765,"32":0.765,"64":0.765,"128":0.765},
{"r":1.25,"p":5,"t":-120,"16":0.74,"32":0.74,"64":0.74,"128":0.74},
{"r":1.25,"p":5,"t":-105,"16":0.712,"32":0.718,"64":0.718,"128":0.718},
{"r":1.25,"p":5,"t":-90,"16":0.726,"32":0.726,"64":0.726,"128":0.726},
{"r":1.25,"p":5,"t":-75,"16":0.775,"32":0.775,"64":0.775,"128":0.775},
{"r":1.25,"p":5,"t":-60,"16":0.85,"32":0.85,"64":0.85,"128":0.85},
{"r":1.25,"p":5,"t":-45,"16":0.925,"32":0.925,"64":0.925,"128":0.925},
{"r":1.25,"p":5,"t":-30,"16":0.99,"32":0.99,"64":0.99,"128":0.99},
{"r":1.25,"p":5,"t":-15,"16":1.018,"32":1.018,"64":1.018,"128":1.018},
{"r":1.25,"p":5,"t":0,"16":1.024,"32":1.024,"64":1.024,"128":1.024},
{"r":1.25,"p":5,"t":15,"16":1.018,"32":1.018,"64":1.018,"128":1.018},
{"r":1.25,"p":5,"t":30,"16":0.99,"32":0.99,"64":0.99,"128":0.99},
{"r":1.25,"p":5,"t":45,"16":0.925,"32":0.925,"64":0.925,"128":0.925},
{"r":1.25,"p":5,"t":60,"16":0.85,"32":0.85,"64":0.85,"128":0.85},
{"r":1.25,"p":5,"t":75,"16":0.775,"32":0.775,"64":0.775,"128":0.775},
{"r":1.25,"p":5,"t":90,"16":0.726,"32":0.726,"64":0.726,"128":0.726},
{"r":1.25,"p":5,"t":105,"16":0.718,"32":0.718,"64":0.718,"128":0.718},
{"r":1.25,"p":5,"t":120,"16":0.74,"32":0.74,"64":0.74,"128":0.74},
{"r":1.25,"p":5,"t":135,"16":0.765,"32":0.765,"64":0.765,"128":0.765},
{"r":1.25,"p":5,"t":150,"16":0.785,"32":0.785,"64":0.785,"128":0.785},
{"r":1.25,"p":5,"t":165,"16":0.805,"32":0.805,"64":0.805,"128":0.805},
{"r":1.25,"p":5,"t":180,"16":0.822,"32":0.822,"64":0.822,"128":0.822}
]},
"transform":[{"fold":["16","32","64","128"],"as":["K","v"]},{"filter":"isValid(datum.v)"}],
"title":{"text":"θ°","orient":"right","frame":"bounds","anchor":"middle","angle":-90,"align":"center","baseline":"middle","font":"DejaVu Serif","fontStyle":"italic","fontWeight":"normal","fontSize":17,"color":"#000","offset":12},
"spacing":-15,
"vconcat":[
{"spacing":0,"hconcat":[
{"width":383,"height":161,"data":{"values":[{"s":0}]},"mark":{"type":"rule","opacity":0},"encoding":{},"view":{"stroke":null}},
{"width":105,"height":161,"data":{"values":[{"K":"16","lab":"K_cyl = 16"},{"K":"32","lab":"K_cyl = 32"},{"K":"64","lab":"K_cyl = 64"},{"K":"128","lab":"K_cyl = 128"}]},
"encoding":{"x":{"field":"K","type":"nominal","scale":{"type":"point","domain":["16","32","64","128"],"padding":0.55},"axis":null}},
"layer":[
{"mark":{"type":"rule","strokeWidth":1.2},"encoding":{"y":{"datum":0.07,"type":"quantitative","scale":{"domain":[0,3],"nice":false,"zero":false},"axis":null},"y2":{"datum":1.05},"color":{"field":"K","type":"nominal","scale":{"domain":["16","32","64","128"]}}}},
{"mark":{"type":"text","angle":-90,"align":"left","baseline":"middle","font":"DejaVu Serif","fontSize":13,"color":"#000"},"encoding":{"y":{"datum":1.27,"type":"quantitative"},"text":{"field":"lab"}}}
]}
]},
{"spacing":57,
"vconcat":[
{"title":{"text":"r=3.00","orient":"left","frame":"bounds","anchor":"middle","align":"center","font":"DejaVu Sans","fontWeight":"bold","fontSize":17,"color":"#111","offset":2},"spacing":58,"bounds":"flush","hconcat":[
{"width":144,"height":286,"transform":[{"filter":"datum.r==3&&datum.p==2"}],"mark":{"type":"line","strokeWidth":1.2,"clip":true},"encoding":{"x":{"field":"v","type":"quantitative","scale":{"domain":[0.356,1.148],"reverse":true,"nice":false,"zero":false},"axis":{"values":[0.4,0.6,0.8,1],"format":"~g","title":null}},"y":{"field":"t","type":"quantitative","scale":{"domain":[-200,200],"nice":false},"axis":{"orient":"right","values":[-200,-100,0,100,200],"title":null}},"color":{"field":"K","type":"nominal","scale":{"domain":["16","32","64","128"]}},"order":{"field":"t","type":"quantitative"}}},
{"width":144,"height":286,"transform":[{"filter":"datum.r==3&&datum.p==3"}],"mark":{"type":"line","strokeWidth":1.2,"clip":true},"encoding":{"x":{"field":"v","type":"quantitative","scale":{"domain":[0.37,1.04],"reverse":true,"nice":false,"zero":false},"axis":{"values":[0.4,0.6,0.8,1],"format":"~g","title":null}},"y":{"field":"t","type":"quantitative","scale":{"domain":[-200,200],"nice":false},"axis":{"orient":"right","values":[-200,-100,0,100,200],"title":null}},"color":{"field":"K","type":"nominal","scale":{"domain":["16","32","64","128"]}},"order":{"field":"t","type":"quantitative"}}},
{"width":144,"height":286,"transform":[{"filter":"datum.r==3&&datum.p==4"}],"mark":{"type":"line","strokeWidth":1.2,"clip":true},"encoding":{"x":{"field":"v","type":"quantitative","scale":{"domain":[0.369,1.051],"reverse":true,"nice":false,"zero":false},"axis":{"values":[0.4,0.6,0.8,1],"format":"~g","title":null}},"y":{"field":"t","type":"quantitative","scale":{"domain":[-200,200],"nice":false},"axis":{"orient":"right","values":[-200,-100,0,100,200],"title":null}},"color":{"field":"K","type":"nominal","scale":{"domain":["16","32","64","128"]}},"order":{"field":"t","type":"quantitative"}}},
{"width":144,"height":286,"transform":[{"filter":"datum.r==3&&datum.p==5"}],"mark":{"type":"line","strokeWidth":1.2,"clip":true},"encoding":{"x":{"field":"v","type":"quantitative","scale":{"domain":[0.369,1.05],"reverse":true,"nice":false,"zero":false},"axis":{"values":[0.4,0.6,0.8,1],"format":"~g","title":null}},"y":{"field":"t","type":"quantitative","scale":{"domain":[-200,200],"nice":false},"axis":{"orient":"right","values":[-200,-100,0,100,200],"title":null}},"color":{"field":"K","type":"nominal","scale":{"domain":["16","32","64","128"]}},"order":{"field":"t","type":"quantitative"}}}
]},
{"title":{"text":"r=2.00","orient":"left","frame":"bounds","anchor":"middle","align":"center","font":"DejaVu Sans","fontWeight":"bold","fontSize":17,"color":"#111","offset":2},"spacing":58,"bounds":"flush","hconcat":[
{"width":144,"height":286,"transform":[{"filter":"datum.r==2&&datum.p==2"}],"mark":{"type":"line","strokeWidth":1.2,"clip":true},"encoding":{"x":{"field":"v","type":"quantitative","scale":{"domain":[0.4,1.2],"reverse":true,"nice":false,"zero":false},"axis":{"values":[0.4,0.6,0.8,1,1.2],"format":"~g","title":null}},"y":{"field":"t","type":"quantitative","scale":{"domain":[-200,200],"nice":false},"axis":{"orient":"right","values":[-200,-100,0,100,200],"title":null}},"color":{"field":"K","type":"nominal","scale":{"domain":["16","32","64","128"]}},"order":{"field":"t","type":"quantitative"}}},
{"width":144,"height":286,"transform":[{"filter":"datum.r==2&&datum.p==3"}],"mark":{"type":"line","strokeWidth":1.2,"clip":true},"encoding":{"x":{"field":"v","type":"quantitative","scale":{"domain":[0.4,1.2],"reverse":true,"nice":false,"zero":false},"axis":{"values":[0.4,0.6,0.8,1,1.2],"format":"~g","title":null}},"y":{"field":"t","type":"quantitative","scale":{"domain":[-200,200],"nice":false},"axis":{"orient":"right","values":[-200,-100,0,100,200],"title":null}},"color":{"field":"K","type":"nominal","scale":{"domain":["16","32","64","128"]}},"order":{"field":"t","type":"quantitative"}}},
{"width":144,"height":286,"transform":[{"filter":"datum.r==2&&datum.p==4"}],"mark":{"type":"line","strokeWidth":1.2,"clip":true},"encoding":{"x":{"field":"v","type":"quantitative","scale":{"domain":[0.4,1.2],"reverse":true,"nice":false,"zero":false},"axis":{"values":[0.4,0.6,0.8,1,1.2],"format":"~g","title":null}},"y":{"field":"t","type":"quantitative","scale":{"domain":[-200,200],"nice":false},"axis":{"orient":"right","values":[-200,-100,0,100,200],"title":null}},"color":{"field":"K","type":"nominal","scale":{"domain":["16","32","64","128"]}},"order":{"field":"t","type":"quantitative"}}},
{"width":144,"height":286,"transform":[{"filter":"datum.r==2&&datum.p==5"}],"mark":{"type":"line","strokeWidth":1.2,"clip":true},"encoding":{"x":{"field":"v","type":"quantitative","scale":{"domain":[0.4,1.2],"reverse":true,"nice":false,"zero":false},"axis":{"values":[0.4,0.6,0.8,1,1.2],"format":"~g","title":null}},"y":{"field":"t","type":"quantitative","scale":{"domain":[-200,200],"nice":false},"axis":{"orient":"right","values":[-200,-100,0,100,200],"title":null}},"color":{"field":"K","type":"nominal","scale":{"domain":["16","32","64","128"]}},"order":{"field":"t","type":"quantitative"}}}
]},
{"title":{"text":"r=1.50","orient":"left","frame":"bounds","anchor":"middle","align":"center","font":"DejaVu Sans","fontWeight":"bold","fontSize":17,"color":"#111","offset":2},"spacing":58,"bounds":"flush","hconcat":[
{"width":144,"height":286,"transform":[{"filter":"datum.r==1.5&&datum.p==2"}],"mark":{"type":"line","strokeWidth":1.2,"clip":true},"encoding":{"x":{"field":"v","type":"quantitative","scale":{"domain":[0.578,1.063],"reverse":true,"nice":false,"zero":false},"axis":{"values":[0.6,0.7,0.8,0.9,1],"format":"~g","title":null}},"y":{"field":"t","type":"quantitative","scale":{"domain":[-200,200],"nice":false},"axis":{"orient":"right","values":[-200,-100,0,100,200],"title":null}},"color":{"field":"K","type":"nominal","scale":{"domain":["16","32","64","128"]}},"order":{"field":"t","type":"quantitative"}}},
{"width":144,"height":286,"transform":[{"filter":"datum.r==1.5&&datum.p==3"}],"mark":{"type":"line","strokeWidth":1.2,"clip":true},"encoding":{"x":{"field":"v","type":"quantitative","scale":{"domain":[0.582,1.068],"reverse":true,"nice":false,"zero":false},"axis":{"values":[0.6,0.7,0.8,0.9,1],"format":"~g","title":null}},"y":{"field":"t","type":"quantitative","scale":{"domain":[-200,200],"nice":false},"axis":{"orient":"right","values":[-200,-100,0,100,200],"title":null}},"color":{"field":"K","type":"nominal","scale":{"domain":["16","32","64","128"]}},"order":{"field":"t","type":"quantitative"}}},
{"width":144,"height":286,"transform":[{"filter":"datum.r==1.5&&datum.p==4"}],"mark":{"type":"line","strokeWidth":1.2,"clip":true},"encoding":{"x":{"field":"v","type":"quantitative","scale":{"domain":[0.582,1.068],"reverse":true,"nice":false,"zero":false},"axis":{"values":[0.6,0.7,0.8,0.9,1],"format":"~g","title":null}},"y":{"field":"t","type":"quantitative","scale":{"domain":[-200,200],"nice":false},"axis":{"orient":"right","values":[-200,-100,0,100,200],"title":null}},"color":{"field":"K","type":"nominal","scale":{"domain":["16","32","64","128"]}},"order":{"field":"t","type":"quantitative"}}},
{"width":144,"height":286,"transform":[{"filter":"datum.r==1.5&&datum.p==5"}],"mark":{"type":"line","strokeWidth":1.2,"clip":true},"encoding":{"x":{"field":"v","type":"quantitative","scale":{"domain":[0.582,1.068],"reverse":true,"nice":false,"zero":false},"axis":{"values":[0.6,0.7,0.8,0.9,1],"format":"~g","title":null}},"y":{"field":"t","type":"quantitative","scale":{"domain":[-200,200],"nice":false},"axis":{"orient":"right","values":[-200,-100,0,100,200],"title":null}},"color":{"field":"K","type":"nominal","scale":{"domain":["16","32","64","128"]}},"order":{"field":"t","type":"quantitative"}}}
]},
{"title":{"text":"r=1.25","orient":"left","frame":"bounds","anchor":"middle","align":"center","font":"DejaVu Sans","fontWeight":"bold","fontSize":17,"color":"#111","offset":2},"spacing":58,"bounds":"flush","hconcat":[
{"width":144,"height":286,"transform":[{"filter":"datum.r==1.25&&datum.p==2"}],"mark":{"type":"line","strokeWidth":1.2,"clip":true},"encoding":{"x":{"field":"v","type":"quantitative","scale":{"domain":[0.7,1.044],"reverse":true,"nice":false,"zero":false},"axis":{"values":[0.7,0.8,0.9,1],"format":"~g","title":"p=2"}},"y":{"field":"t","type":"quantitative","scale":{"domain":[-200,200],"nice":false},"axis":{"orient":"right","values":[-200,-100,0,100,200],"title":null}},"color":{"field":"K","type":"nominal","scale":{"domain":["16","32","64","128"]}},"order":{"field":"t","type":"quantitative"}}},
{"width":144,"height":286,"transform":[{"filter":"datum.r==1.25&&datum.p==3"}],"mark":{"type":"line","strokeWidth":1.2,"clip":true},"encoding":{"x":{"field":"v","type":"quantitative","scale":{"domain":[0.7,1.019],"reverse":true,"nice":false,"zero":false},"axis":{"values":[0.7,0.8,0.9,1],"format":"~g","title":"p=3"}},"y":{"field":"t","type":"quantitative","scale":{"domain":[-200,200],"nice":false},"axis":{"orient":"right","values":[-200,-100,0,100,200],"title":"maxₜ Eˢᶜᵃᵗ(r, θ, t)","titleX":25,"titleY":414,"titleAngle":180,"titleAlign":"center","titleBaseline":"middle","titleFont":"DejaVu Serif","titleFontWeight":"normal","titleFontSize":27,"titleColor":"#000"}},"color":{"field":"K","type":"nominal","scale":{"domain":["16","32","64","128"]}},"order":{"field":"t","type":"quantitative"}}},
{"width":144,"height":286,"transform":[{"filter":"datum.r==1.25&&datum.p==4"}],"mark":{"type":"line","strokeWidth":1.2,"clip":true},"encoding":{"x":{"field":"v","type":"quantitative","scale":{"domain":[0.7,1.011],"reverse":true,"nice":false,"zero":false},"axis":{"values":[0.7,0.8,0.9,1],"format":"~g","title":"p=4"}},"y":{"field":"t","type":"quantitative","scale":{"domain":[-200,200],"nice":false},"axis":{"orient":"right","values":[-200,-100,0,100,200],"title":null}},"color":{"field":"K","type":"nominal","scale":{"domain":["16","32","64","128"]}},"order":{"field":"t","type":"quantitative"}}},
{"width":144,"height":286,"transform":[{"filter":"datum.r==1.25&&datum.p==5"}],"mark":{"type":"line","strokeWidth":1.2,"clip":true},"encoding":{"x":{"field":"v","type":"quantitative","scale":{"domain":[0.7,1.1],"reverse":true,"nice":false,"zero":false},"axis":{"values":[0.7,0.8,0.9,1,1.1],"format":"~g","title":"p=5"}},"y":{"field":"t","type":"quantitative","scale":{"domain":[-200,200],"nice":false},"axis":{"orient":"right","values":[-200,-100,0,100,200],"title":null}},"color":{"field":"K","type":"nominal","scale":{"domain":["16","32","64","128"]}},"order":{"field":"t","type":"quantitative"}}}
]}
]}
],
"config":{
"view":{"stroke":"#000","strokeWidth":1},
"legend":{"disable":true},
"range":{"category":["#0072BD","#D95319","#EDB120","#7E2F8E"]},
"axis":{"grid":false,"domainColor":"#000","domainWidth":1,"tickColor":"#000","tickSize":-4,"labelPadding":7,"labelFont":"DejaVu Sans","labelFontSize":13,"labelColor":"#333","labelAngle":-90,"labelOverlap":false,"labelFlush":false,"titleFont":"DejaVu Sans","titleFontSize":17,"titleFontWeight":"bold","titleColor":"#111","titlePadding":8},
"axisBottom":{"labelAlign":"right","labelBaseline":"middle","titleAngle":180,"titleBaseline":"bottom"},
"axisRight":{"labelAlign":"center","labelBaseline":"top"}
}
}
